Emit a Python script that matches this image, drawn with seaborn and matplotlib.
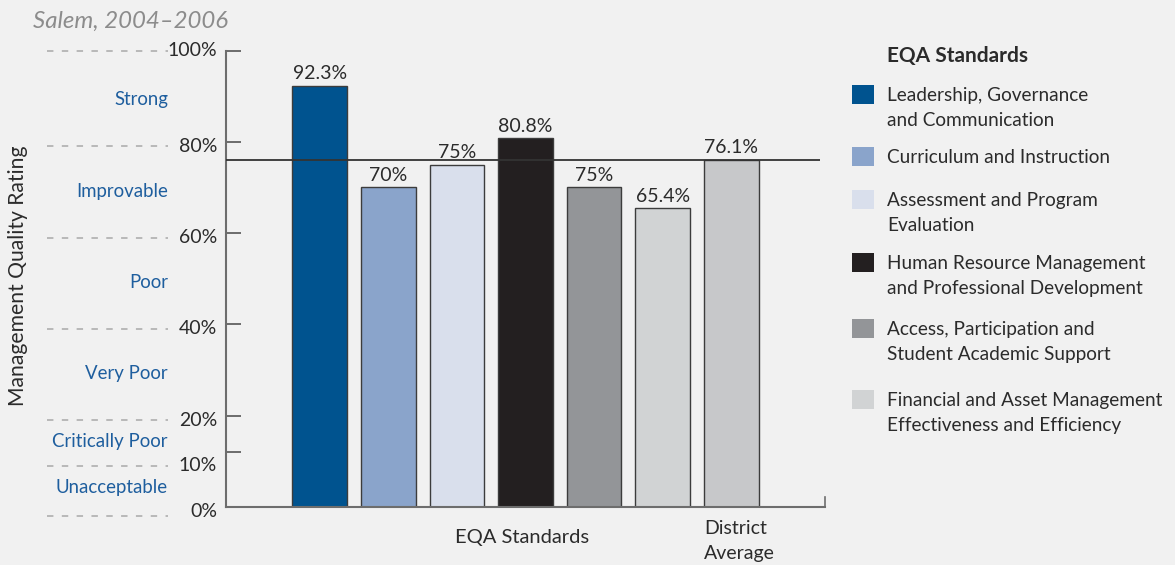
import matplotlib
matplotlib.use("Agg")
import matplotlib.pyplot as plt
import matplotlib.transforms as mtransforms
from matplotlib.patches import Rectangle
import seaborn as sns
import pandas as pd

# ---------------- data ----------------
categories = [
    "Leadership, Governance\nand Communication",
    "Curriculum and Instruction",
    "Assessment and Program\nEvaluation",
    "Human Resource Management\nand Professional Development",
    "Access, Participation and\nStudent Academic Support",
    "Financial and Asset Management\nEffectiveness and Efficiency",
    "District Average",
]
values = [92.3, 70.0, 75.0, 80.8, 70.0, 65.4, 76.1]
value_labels = ["92.3%", "70%", "75%", "80.8%", "75%", "65.4%", "76.1%"]
colors = ["#00538F", "#8AA4CB", "#D9DFEC", "#231F20", "#939598", "#D1D3D4", "#C7C8CA"]
district_average = 76.1

scale_values = [100, 80, 60, 40, 20, 10, 0]
scale_labels = ["100%", "80%", "60%", "40%", "20%", "10%", "0%"]
rating_names = ["Strong", "Improvable", "Poor", "Very Poor", "Critically Poor", "Unacceptable"]
rating_mids = [90, 70, 50, 30, 15, 5]
inner_ticks = [100, 80, 60, 40, 20, 12]

title = "Salem, 2004\u20132006"
ylabel = "Management Quality Rating"
legend_title = "EQA Standards"

# ---------------- style ----------------
sns.set_theme(style="white")
FONT = ["Lato", "DejaVu Sans"]
plt.rcParams["font.family"] = FONT
BG = "#F1F1F1"
DARK = "#2b2b2b"
BLUE = "#1E5E9E"
FS = 14

W, H = 1175, 565
fig = plt.figure(figsize=(W / 100, H / 100), dpi=100, facecolor=BG)
ax = fig.add_axes([226 / W, 1 - 506.7 / H, (825 - 226) / W, (506.7 - 50.7) / H])
ax.set_facecolor(BG)

df = pd.DataFrame({"cat": categories, "val": values})
sns.barplot(data=df, x="cat", y="val", hue="cat", palette=colors, legend=False,
            width=0.8, edgecolor="#3c3c3c", linewidth=1.0, saturation=1, ax=ax)

ax.set_xlim(-1.37, 7.37)
ax.set_ylim(0, 100)
ax.set_xlabel("")
ax.set_ylabel("")
ax.set_xticks([])
ax.set_yticks(inner_ticks)
ax.set_yticklabels([])
ax.tick_params(axis="y", direction="in", length=10.5, width=1.2, color="#555555", left=True)

ax.spines["top"].set_visible(False)
for s in ["left", "bottom"]:
    ax.spines[s].set_color("#6d6d6d")
    ax.spines[s].set_linewidth(1.5)
ax.spines["right"].set_visible(True)
ax.spines["right"].set_color("#6d6d6d")
ax.spines["right"].set_linewidth(1.2)
ax.spines["right"].set_bounds(0, 2.2)

# district average reference line
ax.hlines(district_average, -1.37, 7.29, color="#333333", linewidth=1.3, zorder=3)

# value labels
for i, (v, lab) in enumerate(zip(values, value_labels)):
    ax.annotate(lab, (i, v), xytext=(0, 2.5), textcoords="offset points",
                ha="center", va="bottom", fontsize=FS, color=DARK)

# left scale labels with dashed guides
trans = mtransforms.blended_transform_factory(fig.transFigure, ax.transData)
for v, lab in zip(scale_values, scale_labels):
    yv = v if v == 100 else v - 1.0
    ydash = v if v == 100 else (v - 1.0 if v > 0 else -2.0)
    ax.text(217 / W, yv, lab, transform=trans, ha="right", va="center",
            fontsize=FS, color=DARK, clip_on=False)
    ax.plot([47 / W, 168 / W], [ydash, ydash], transform=trans, color="#a8a8a8",
            linewidth=1.1, linestyle=(0, (4.2, 5.5)), clip_on=False)

for name, m in zip(rating_names, rating_mids):
    ax.text(168 / W, m - 0.8, name, transform=trans, ha="right", va="center",
            fontsize=13.4, color=BLUE, clip_on=False)

# titles / axis labels
fig.text(33 / W, 1 - 21 / H, title, ha="left", va="center", fontsize=17.3,
         style="italic", color="#8c8c8c")
fig.text(18 / W, 1 - 276 / H, ylabel, rotation=90, ha="center", va="center",
         fontsize=15.2, color=DARK)
fig.text(522 / W, 1 - 538 / H, "EQA Standards", ha="center", va="center",
         fontsize=14.5, color=DARK)
fig.text(704 / W, 1 - 541 / H, "District\nAverage", ha="left", va="center",
         fontsize=FS, color=DARK, linespacing=1.55)

# legend
fig.text(887 / W, 1 - 56 / H, legend_title, ha="left", va="center",
         fontsize=15, fontweight="bold", color=DARK)
legend_y = [94, 156, 199, 262, 328, 399]
for c, cat, y in zip(colors[:6], categories[:6], legend_y):
    fig.patches.append(Rectangle((852 / W, 1 - (y + 9.5) / H), 22 / W, 19 / H,
                                 transform=fig.transFigure, facecolor=c,
                                 edgecolor="none"))
    fig.text(887 / W, 1 - (y - 7) / H, cat, ha="left", va="top", fontsize=13.7,
             color=DARK, linespacing=1.56)

fig.savefig("out.png", dpi=100, facecolor=BG)
